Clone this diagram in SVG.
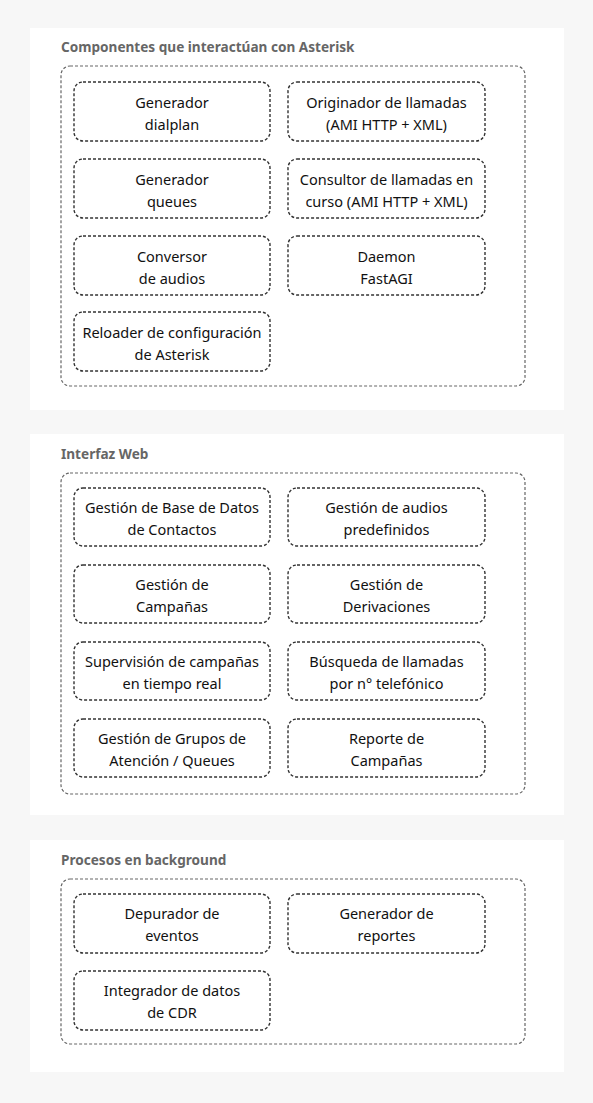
<svg xmlns="http://www.w3.org/2000/svg" width="593" height="1103" viewBox="0 0 593 1103">
<style>
.panel{fill:#ffffff}
.outer{fill:none;stroke:#666;stroke-width:1.2;stroke-dasharray:3 2}
.box{fill:#fff;stroke:#333;stroke-width:1.4;stroke-dasharray:3 2}
.title{font-family:"Noto Sans","Open Sans",sans-serif;font-weight:bold;font-size:13.6px;fill:#666}
.lbl{font-family:"Noto Sans","Open Sans",sans-serif;font-size:14.5px;fill:#111;text-anchor:middle}
</style>
<rect width="593" height="1103" fill="#f7f7f7"/>
<g id="panel-asterisk">
<rect class="panel" x="30" y="28" width="534" height="382"/>
<text class="title" x="61" y="52">Componentes que interactúan con Asterisk</text>
<rect class="outer" x="61" y="66" width="464" height="320" rx="9"/>
</g>
<g id="panel-web">
<rect class="panel" x="30" y="434" width="534" height="381"/>
<text class="title" x="61" y="459">Interfaz Web</text>
<rect class="outer" x="61" y="473" width="464" height="321" rx="9"/>
</g>
<g id="panel-bg">
<rect class="panel" x="30" y="840" width="534" height="232"/>
<text class="title" x="61" y="865">Procesos en background</text>
<rect class="outer" x="61" y="879" width="464" height="165" rx="9"/>
</g>
<g id="n1"><rect class="box" x="74" y="82" width="196" height="59" rx="9"/><text class="lbl" x="172" y="108">Generador</text><text class="lbl" x="172" y="130">dialplan</text></g>
<g id="n2"><rect class="box" x="288" y="82" width="197" height="59" rx="9"/><text class="lbl" x="386.5" y="108">Originador de llamadas</text><text class="lbl" x="386.5" y="130">(AMI HTTP + XML)</text></g>
<g id="n3"><rect class="box" x="74" y="159" width="196" height="59" rx="9"/><text class="lbl" x="172" y="185">Generador</text><text class="lbl" x="172" y="207">queues</text></g>
<g id="n4"><rect class="box" x="288" y="159" width="197" height="59" rx="9"/><text class="lbl" x="386.5" y="185">Consultor de llamadas en</text><text class="lbl" x="386.5" y="207">curso (AMI HTTP + XML)</text></g>
<g id="n5"><rect class="box" x="74" y="236" width="196" height="59" rx="9"/><text class="lbl" x="172" y="262">Conversor</text><text class="lbl" x="172" y="284">de audios</text></g>
<g id="n6"><rect class="box" x="288" y="236" width="197" height="59" rx="9"/><text class="lbl" x="386.5" y="262">Daemon</text><text class="lbl" x="386.5" y="284">FastAGI</text></g>
<g id="n7"><rect class="box" x="74" y="312" width="196" height="59" rx="9"/><text class="lbl" x="172" y="338">Reloader de configuración</text><text class="lbl" x="172" y="360">de Asterisk</text></g>
<g id="w1"><rect class="box" x="74" y="488" width="196" height="58" rx="9"/><text class="lbl" x="172" y="513">Gestión de Base de Datos</text><text class="lbl" x="172" y="535">de Contactos</text></g>
<g id="w2"><rect class="box" x="288" y="488" width="197" height="58" rx="9"/><text class="lbl" x="386.5" y="513">Gestión de audios</text><text class="lbl" x="386.5" y="535">predefinidos</text></g>
<g id="w3"><rect class="box" x="74" y="565" width="196" height="58" rx="9"/><text class="lbl" x="172" y="590">Gestión de</text><text class="lbl" x="172" y="612">Campañas</text></g>
<g id="w4"><rect class="box" x="288" y="565" width="197" height="58" rx="9"/><text class="lbl" x="386.5" y="590">Gestión de</text><text class="lbl" x="386.5" y="612">Derivaciones</text></g>
<g id="w5"><rect class="box" x="74" y="642" width="196" height="58" rx="9"/><text class="lbl" x="172" y="667">Supervisión de campañas</text><text class="lbl" x="172" y="689">en tiempo real</text></g>
<g id="w6"><rect class="box" x="288" y="642" width="197" height="58" rx="9"/><text class="lbl" x="386.5" y="667">Búsqueda de llamadas</text><text class="lbl" x="386.5" y="689">por n° telefónico</text></g>
<g id="w7"><rect class="box" x="74" y="719" width="196" height="58" rx="9"/><text class="lbl" x="172" y="744">Gestión de Grupos de</text><text class="lbl" x="172" y="766">Atención / Queues</text></g>
<g id="w8"><rect class="box" x="288" y="719" width="197" height="58" rx="9"/><text class="lbl" x="386.5" y="744">Reporte de</text><text class="lbl" x="386.5" y="766">Campañas</text></g>
<g id="b1"><rect class="box" x="74" y="894" width="196" height="59" rx="9"/><text class="lbl" x="172" y="919">Depurador de</text><text class="lbl" x="172" y="941">eventos</text></g>
<g id="b2"><rect class="box" x="288" y="894" width="197" height="59" rx="9"/><text class="lbl" x="386.5" y="919">Generador de</text><text class="lbl" x="386.5" y="941">reportes</text></g>
<g id="b3"><rect class="box" x="74" y="971" width="196" height="59" rx="9"/><text class="lbl" x="172" y="996">Integrador de datos</text><text class="lbl" x="172" y="1018">de CDR</text></g>
<g id="connectors"></g>
</svg>
